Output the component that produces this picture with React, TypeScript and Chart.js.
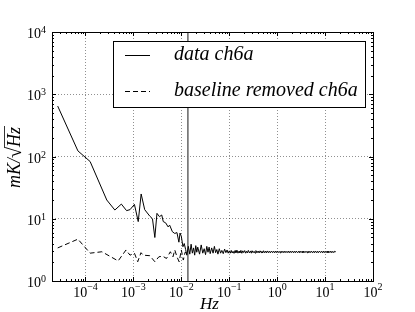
import React, { useEffect, useRef } from "react";
import { Chart, registerables } from "chart.js";

Chart.register(...registerables);

// ---- data ----
const dataFreq = [
  2.63e-5, 6.95e-5, 1.25e-4, 2.78e-4, 4.1e-4, 5.6e-4, 7.2e-4, 8.5e-4, 1.05e-3, 1.26e-3,
  1.45e-3, 1.72e-3, 2.2e-3, 2.5e-3, 2.8e-3, 3.1e-3, 3.5e-3, 3.9e-3, 4.2e-3, 4.7e-3,
  5.3e-3, 5.7e-3, 6.5e-3, 7.3e-3, 8.1e-3, 8.9e-3, 9.4e-3, 1.0e-2, 1.08e-2, 1.15e-2,
  1.23e-2, 1.3e-2,
  0.014, 0.015, 0.016, 0.017, 0.018, 0.019, 0.02, 0.021, 0.022, 0.024,
  0.026, 0.028, 0.03, 0.032, 0.034, 0.036, 0.038, 0.04, 0.043, 0.046,
  0.049, 0.052, 0.055, 0.058, 0.062, 0.066, 0.07, 0.075, 0.08, 0.085,
  0.09, 0.095,
  0.100, 0.105, 0.110, 0.115, 0.12, 0.126, 0.132, 0.138, 0.145, 0.152,
  0.16, 0.167, 0.175, 0.183, 0.192, 0.2, 0.21, 0.22, 0.23, 0.24,
  0.25, 0.265, 0.28, 0.29, 0.3, 0.315, 0.33, 0.345, 0.36, 0.38,
  0.4, 0.42, 0.44, 0.46, 0.48, 0.5, 0.52, 0.55, 0.58, 0.6,
  0.63, 0.66, 0.69, 0.72, 0.76, 0.8, 0.84, 0.88, 0.92, 0.96,
  1.0, 1.05, 1.1, 1.15, 1.2, 1.26, 1.32, 1.38, 1.45, 1.52,
  1.6, 1.67, 1.75, 1.83, 1.92, 2.0, 2.1, 2.2, 2.3, 2.4,
  2.5, 2.65, 2.8, 2.9, 3.0, 3.15, 3.3, 3.45, 3.6, 3.8,
  4.0, 4.2, 4.4, 4.6, 4.8, 5.0, 5.2, 5.5, 5.8, 6.0,
  6.3, 6.6, 6.9, 7.2, 7.6, 8.0, 8.4, 8.8, 9.2, 9.6,
  10.0, 10.5, 11.0, 11.5, 12.0, 12.6, 13.2, 13.8, 14.5, 15.2,
  16.0, 16.7,
];
const dataValues = [
  646, 123, 83, 20, 13.8, 17.2, 13.5, 14, 17, 9.0,
  25, 14, 11, 10, 5.0, 12.2, 10.8, 11.5, 9.0, 8.6,
  7.4, 7.9, 6.2, 5.8, 6.0, 4.2, 5.9, 5.2, 3.55, 4.0,
  3.2, 2.6,
  3.6, 2.7, 3.9, 2.8, 3.4, 2.6, 3.7, 2.9, 3.5, 2.7,
  3.8, 2.8, 3.3, 2.65, 3.6, 2.9, 3.5, 2.75, 3.4, 2.8,
  3.6, 2.85, 3.2, 2.7, 3.3, 2.8, 3.1, 2.75, 3.25, 2.85,
  3.15, 2.8,
  3.05, 2.8, 3.1, 2.82, 3.0, 2.78, 3.08, 2.85, 3.12, 2.8,
  3.02, 2.84, 3.1, 2.79, 3.05, 2.86, 3.08, 2.8, 3.0, 2.83,
  3.1, 2.82, 3.04, 2.8, 3.06, 2.85, 3.0, 2.81, 3.08, 2.84,
  3.03, 2.82, 3.05, 2.86, 3.0, 2.82, 3.06, 2.84, 3.02, 2.83,
  3.04, 2.85, 3.0, 2.84, 3.03, 2.85, 3.01, 2.84, 3.02, 2.85,
  3.02, 2.85, 3.0, 2.84, 3.02, 2.86, 3.01, 2.84, 3.02, 2.85,
  3.0, 2.85, 3.02, 2.84, 3.01, 2.86, 3.02, 2.84, 3.0, 2.85,
  3.02, 2.85, 3.01, 2.84, 3.02, 2.86, 3.0, 2.84, 3.02, 2.85,
  3.01, 2.85, 3.02, 2.84, 3.0, 2.86, 3.02, 2.84, 3.01, 2.85,
  3.02, 2.85, 3.0, 2.84, 3.02, 2.86, 3.01, 2.84, 3.02, 2.85,
  3.0, 2.85, 3.02, 2.84, 3.01, 2.86, 3.02, 2.84, 3.0, 2.85,
  3.02, 2.93,
];
const baseFreq = [
  2.63e-5, 6.95e-5, 1.25e-4, 2.2e-4, 4.8e-4, 7.0e-4, 8.5e-4, 1.05e-3, 1.23e-3, 1.44e-3,
  1.6e-3, 2.2e-3, 2.8e-3, 3.4e-3, 4.1e-3, 4.9e-3, 5.9e-3, 6.7e-3, 7.3e-3, 8.1e-3,
  9.0e-3, 1.0e-2, 1.1e-2, 1.2e-2, 1.3e-2,
];
const baseValues = [
  3.4, 4.7, 2.8, 2.95, 2.1, 3.15, 2.6, 2.8, 2.04, 2.85,
  2.6, 2.55, 2.04, 2.45, 2.5, 2.3, 2.95, 2.45, 3.15, 2.45,
  2.04, 3.15, 2.17, 2.9, 2.8,
];
const cutoffFreq = 0.0137;
const xTickExponents = [-4, -3, -2, -1, 0, 1, 2];
const yTickExponents = [0, 1, 2, 3, 4];
const seriesLabels = ["data ch6a", "baseline removed ch6a"];
const xLabel = "Hz";
const xMin = 2e-5;
const xMax = 1e2;
const yMin = 1;
const yMax = 1e4;

const SERIF = "'Liberation Serif', 'DejaVu Serif', serif";

function expText(e: number) {
  return e < 0 ? "\u2212" + Math.abs(e) : String(e);
}

const decorPlugin = {
  id: "decor",
  afterDatasetsDraw(chart: any) {
    const ctx: CanvasRenderingContext2D = chart.ctx;
    const { left, right, top, bottom } = chart.chartArea;
    const xs = chart.scales.x;
    const ys = chart.scales.y;
    ctx.save();
    ctx.strokeStyle = "#000";
    ctx.lineWidth = 1;
    // minor / major ticks, inward, all four sides
    ctx.beginPath();
    for (let e = -5; e <= 2; e++) {
      for (let k = 1; k <= 9; k++) {
        const v = k * Math.pow(10, e);
        if (v < xMin || v > xMax) continue;
        const px = Math.round(xs.getPixelForValue(v)) + 0.5;
        const len = k === 1 ? 4 : 2;
        ctx.moveTo(px, bottom);
        ctx.lineTo(px, bottom - len);
        ctx.moveTo(px, top);
        ctx.lineTo(px, top + len);
      }
    }
    for (let e = 0; e <= 4; e++) {
      for (let k = 1; k <= 9; k++) {
        const v = k * Math.pow(10, e);
        if (v < yMin || v > yMax) continue;
        const py = Math.round(ys.getPixelForValue(v)) + 0.5;
        const len = k === 1 ? 4 : 2;
        ctx.moveTo(left, py);
        ctx.lineTo(left + len, py);
        ctx.moveTo(right, py);
        ctx.lineTo(right - len, py);
      }
    }
    ctx.stroke();
    // frame
    ctx.strokeRect(Math.round(left) + 0.5, Math.round(top) + 0.5, Math.round(right - left), Math.round(bottom - top));

    // tick labels
    ctx.fillStyle = "#000";
    ctx.textBaseline = "alphabetic";
    ctx.textAlign = "left";
    const mainFont = `14px ${SERIF}`;
    const supFont = `10px ${SERIF}`;
    for (const e of xTickExponents) {
      const px = xs.getPixelForValue(Math.pow(10, e));
      ctx.font = mainFont;
      const w1 = ctx.measureText("10").width;
      ctx.font = supFont;
      const w2 = ctx.measureText(expText(e)).width;
      const x0 = px - (w1 + w2) / 2;
      ctx.font = mainFont;
      ctx.fillText("10", x0, bottom + 16);
      ctx.font = supFont;
      ctx.fillText(expText(e), x0 + w1, bottom + 9);
    }
    for (const e of yTickExponents) {
      const py = ys.getPixelForValue(Math.pow(10, e));
      ctx.font = supFont;
      const w2 = ctx.measureText(expText(e)).width;
      ctx.font = mainFont;
      const w1 = ctx.measureText("10").width;
      const x1 = left - 6;
      ctx.font = supFont;
      ctx.fillText(expText(e), x1 - w2, py + 1);
      ctx.font = mainFont;
      ctx.fillText("10", x1 - w2 - w1, py + 6);
    }

    // x axis title
    ctx.font = `italic 17px ${SERIF}`;
    ctx.textAlign = "center";
    ctx.fillText(xLabel, (left + right) / 2 - 3, bottom + 28);

    // y axis title: mK/sqrt(Hz)
    ctx.save();
    ctx.translate(20, (top + bottom) / 2 + 1);
    ctx.rotate(-Math.PI / 2);
    ctx.font = `italic 18px ${SERIF}`;
    ctx.textAlign = "left";
    const a = "mK/";
    const b = "Hz";
    const wa = ctx.measureText(a).width;
    ctx.font = `20px ${SERIF}`;
    const ws = ctx.measureText("\u221A").width;
    ctx.font = `italic 18px ${SERIF}`;
    const wb = ctx.measureText(b).width;
    const total = wa + ws + wb;
    const x0 = -total / 2;
    ctx.fillText(a, x0, 0);
    ctx.font = `20px ${SERIF}`;
    ctx.fillText("\u221A", x0 + wa, 1);
    ctx.font = `italic 18px ${SERIF}`;
    ctx.fillText(b, x0 + wa + ws, 0);
    ctx.lineWidth = 0.8;
    ctx.beginPath();
    ctx.moveTo(x0 + wa + ws - 1, -15.5);
    ctx.lineTo(x0 + total + 1, -15.5);
    ctx.stroke();
    ctx.restore();

    // legend
    const lx = left + 61;
    const ly = top + 9;
    const lw = 252;
    const lh = 66;
    ctx.fillStyle = "#fff";
    ctx.fillRect(lx, ly, lw, lh);
    ctx.strokeStyle = "#000";
    ctx.lineWidth = 1;
    ctx.strokeRect(Math.round(lx) + 0.5, Math.round(ly) + 0.5, lw, lh);
    const rows = [ly + 14, ly + 50];
    chart.data.datasets.slice(0, 2).forEach((ds: any, i: number) => {
      const y = Math.round(rows[i]) + 0.5;
      ctx.strokeStyle = "#000";
      ctx.lineWidth = 1;
      ctx.setLineDash(ds.borderDash || []);
      ctx.beginPath();
      ctx.moveTo(lx + 12, y);
      ctx.lineTo(lx + 37, y);
      ctx.stroke();
      ctx.setLineDash([]);
      ctx.fillStyle = "#000";
      ctx.font = `italic 20px ${SERIF}`;
      ctx.textAlign = "left";
      ctx.textBaseline = "middle";
      ctx.fillText(ds.label, lx + 61, rows[i]);
    });
    ctx.restore();
  },
};

export default function App() {
  const ref = useRef<HTMLCanvasElement>(null);
  useEffect(() => {
    const canvas = ref.current;
    if (!canvas) return;
    const chart = new Chart(canvas, {
      type: "line",
      data: {
        datasets: [
          {
            label: seriesLabels[0],
            data: dataFreq.map((f, i) => ({ x: f, y: dataValues[i] })),
            borderColor: "#000",
            borderWidth: 1,
            pointRadius: 0,
            tension: 0,
          },
          {
            label: seriesLabels[1],
            data: baseFreq.map((f, i) => ({ x: f, y: baseValues[i] })),
            borderColor: "#000",
            borderWidth: 1,
            borderDash: [5, 3],
            pointRadius: 0,
            tension: 0,
          },
          {
            label: "cutoff",
            data: [
              { x: cutoffFreq, y: yMin },
              { x: cutoffFreq, y: yMax },
            ],
            borderColor: "#6e6e6e",
            borderWidth: 1.6,
            pointRadius: 0,
          },
        ],
      },
      options: {
        responsive: false,
        animation: false,
        devicePixelRatio: 1,
        layout: { padding: { left: 52, right: 42, top: 32, bottom: 31 } },
        plugins: { legend: { display: false }, tooltip: { enabled: false } },
        scales: {
          x: {
            type: "logarithmic",
            min: xMin,
            max: xMax,
            afterBuildTicks: (s: any) => {
              s.ticks = xTickExponents.map((e) => ({ value: Math.pow(10, e) }));
            },
            ticks: { display: false },
            grid: { color: "rgba(0,0,0,0.55)", lineWidth: 0.8, drawTicks: false },
            border: { display: false, dash: [1, 2] },
          },
          y: {
            type: "logarithmic",
            min: yMin,
            max: yMax,
            afterBuildTicks: (s: any) => {
              s.ticks = yTickExponents.map((e) => ({ value: Math.pow(10, e) }));
            },
            ticks: { display: false },
            grid: { color: "rgba(0,0,0,0.55)", lineWidth: 0.8, drawTicks: false },
            border: { display: false, dash: [1, 2] },
          },
        },
      },
      plugins: [decorPlugin],
    });
    return () => chart.destroy();
  }, []);
  return (
    <div style={{ position: "fixed", left: 0, top: 0, width: 415, height: 312, background: "#fff" }}>
      <canvas ref={ref} width={415} height={312} style={{ display: "block", width: 415, height: 312 }} />
    </div>
  );
}
